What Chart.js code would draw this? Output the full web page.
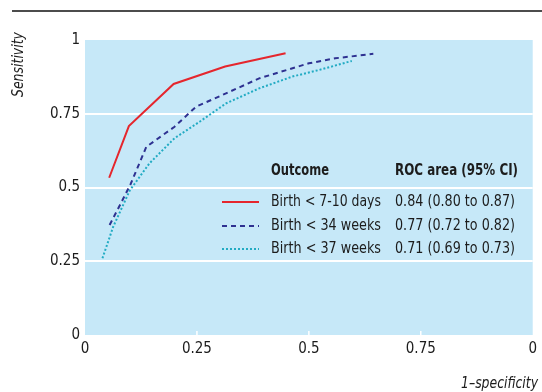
<!DOCTYPE html>
<html>
<head>
<meta charset="utf-8">
<script src="https://cdn.jsdelivr.net/npm/chart.js@4.4.1/dist/chart.umd.min.js"></script>
<style>
    html, body { margin: 0; padding: 0; background: #fff; }
    #wrap { width: 542px; height: 392px; }
</style>
</head>
<body>
<div id="wrap"><canvas id="roc" width="542" height="392"></canvas></div>
<script>
"use strict";

// values
const outcomes = ["Birth < 7-10 days", "Birth < 34 weeks", "Birth < 37 weeks"];
const rocAreas = ["0.84 (0.80 to 0.87)", "0.77 (0.72 to 0.82)", "0.71 (0.69 to 0.73)"];

const fprDays = [0.054, 0.098, 0.198, 0.313, 0.448];
const sensDays = [0.533, 0.708, 0.851, 0.91, 0.955];

const fpr34 = [0.055, 0.08, 0.102, 0.137, 0.2, 0.248, 0.315, 0.389, 0.5, 0.559, 0.644];
const sens34 = [0.373, 0.446, 0.512, 0.638, 0.706, 0.774, 0.819, 0.87, 0.921, 0.938, 0.953];

const fpr37 = [0.039, 0.063, 0.1, 0.144, 0.2, 0.256, 0.315, 0.389, 0.463, 0.522, 0.596];
const sens37 = [0.26, 0.367, 0.49, 0.582, 0.667, 0.723, 0.785, 0.836, 0.876, 0.898, 0.929];

const xTickLabels = ["0", "0.25", "0.5", "0.75", "0"];
const yTickLabels = ["0", "0.25", "0.5", "0.75", "1"];

const kFont = "'Liberation Sans Narrow', 'DejaVu Sans Condensed', 'Roboto', sans-serif";
const kText = "#1c1c1c";
const kColors = ["#e5262d", "#2e3191", "#22abc3"];
const kDashes = [[], [5, 4], [2, 2]];

function points(xs, ys) {
    return xs.map((x, i) => ({ x, y: ys[i] }));
}

const decorations = {
    id: "decorations",
    beforeDraw(chart) {
        const { ctx, chartArea: a } = chart;
        ctx.save();
        ctx.fillStyle = "#c6e8f8";
        ctx.fillRect(a.left, a.top, a.right - a.left, a.bottom - a.top);
        ctx.restore();
    },
    afterDatasetsDraw(chart) {
        const { ctx, chartArea: a, scales } = chart;
        ctx.save();

        // rule across the top of the figure
        ctx.strokeStyle = "#111";
        ctx.lineWidth = 1.5;
        ctx.beginPath();
        ctx.moveTo(12, 11);
        ctx.lineTo(542, 11);
        ctx.stroke();

        // short white ticks on the bottom edge
        ctx.strokeStyle = "#fff";
        ctx.lineWidth = 1.5;
        for (const v of [0.25, 0.5, 0.75]) {
            const px = scales.x.getPixelForValue(v);
            ctx.beginPath();
            ctx.moveTo(px, a.bottom);
            ctx.lineTo(px, a.bottom - 4);
            ctx.stroke();
        }

        // axis titles
        ctx.fillStyle = kText;
        ctx.font = `italic 15px ${kFont}`;
        ctx.textBaseline = "middle";
        ctx.textAlign = "right";
        ctx.fillText("1\u2013specificity", 538, 384, 77);
        ctx.translate(19, 32);
        ctx.rotate(-Math.PI / 2);
        ctx.fillText("Sensitivity", 0, 0, 65);
        ctx.setTransform(1, 0, 0, 1, 0, 0);

        // legend table
        ctx.textAlign = "left";
        ctx.font = `bold 15px ${kFont}`;
        ctx.fillText("Outcome", 271, 171, 58);
        ctx.fillText("ROC area (95% CI)", 395, 171, 123);
        ctx.font = `15px ${kFont}`;
        const rows = [202, 226, 249];
        outcomes.forEach((name, i) => {
            ctx.strokeStyle = kColors[i];
            ctx.lineWidth = 2;
            ctx.setLineDash(kDashes[i]);
            ctx.beginPath();
            ctx.moveTo(222, rows[i]);
            ctx.lineTo(259, rows[i]);
            ctx.stroke();
            ctx.setLineDash([]);
            ctx.fillText(name, 271, rows[i], 110);
            ctx.fillText(rocAreas[i], 395, rows[i], 120);
        });
        ctx.restore();
    }
};

const datasets = [
    points(fprDays, sensDays),
    points(fpr34, sens34),
    points(fpr37, sens37)
].map((data, i) => ({
    label: outcomes[i],
    data,
    borderColor: kColors[i],
    borderWidth: 2,
    borderDash: kDashes[i],
    pointRadius: 0,
    tension: 0,
    fill: false
}));

new Chart(document.getElementById("roc").getContext("2d"), {
    type: "line",
    data: { datasets },
    plugins: [decorations],
    options: {
        responsive: false,
        animation: false,
        devicePixelRatio: 1,
        layout: { padding: { top: 40, right: 7, left: 0, bottom: 0 } },
        plugins: {
            legend: { display: false },
            tooltip: { enabled: false }
        },
        scales: {
            x: {
                type: "linear",
                min: 0,
                max: 1,
                afterFit(scale) { scale.height = 57; },
                afterBuildTicks(scale) {
                    scale.ticks = xTickLabels.map((_, i) => ({ value: i * 0.25 }));
                },
                ticks: {
                    autoSkip: false,
                    maxRotation: 0,
                    padding: 5,
                    color: kText,
                    font: { family: kFont, size: 15 },
                    callback: (v, i) => xTickLabels[i]
                },
                grid: { display: false, drawTicks: false },
                border: { display: false }
            },
            y: {
                min: 0,
                max: 1,
                afterFit(scale) { scale.width = 85; },
                afterBuildTicks(scale) {
                    scale.ticks = yTickLabels.map((_, i) => ({ value: i * 0.25 }));
                },
                ticks: {
                    autoSkip: false,
                    padding: 5,
                    color: kText,
                    font: { family: kFont, size: 15 },
                    callback: (v, i) => yTickLabels[i]
                },
                grid: {
                    drawTicks: false,
                    lineWidth: 2,
                    color: (c) => (c.tick && c.tick.value > 0 && c.tick.value < 1 ? "#ffffff" : "rgba(0,0,0,0)")
                },
                border: { display: false }
            }
        }
    }
});
</script>
</body>
</html>
